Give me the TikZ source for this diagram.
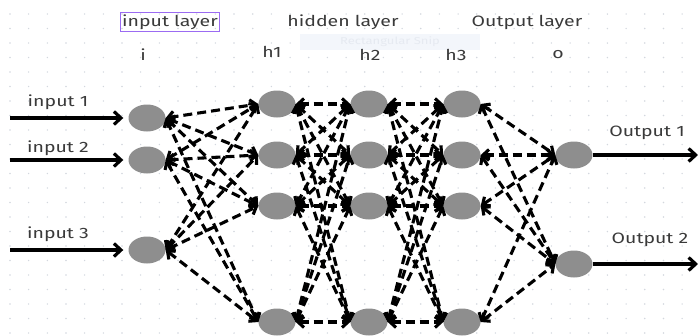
\documentclass[tikz,border=0pt]{standalone}
\usepackage{fontspec}
\setmainfont{Fira Sans}
\usetikzlibrary{arrows.meta,shapes.geometric}
\definecolor{nodeGrey}{HTML}{8E8E8E}
\definecolor{labelInk}{HTML}{3A3A3A}
\definecolor{gridDot}{HTML}{D3D7DE}
\definecolor{frameViolet}{HTML}{9B6BF2}
\definecolor{snipTint}{HTML}{F3F6FB}
\definecolor{snipInk}{HTML}{E6EAF1}
\newcommand{\widetxt}[1]{\scalebox{1.3}[1]{#1}}

\begin{document}
\begin{tikzpicture}[x=1pt,y=-1pt,
    every node/.style={font=\fontsize{15}{18}\selectfont,text=labelInk},
    neuron/.style={ellipse,fill=nodeGrey,minimum width=37pt,
                   minimum height=27pt,inner sep=0pt},
    link/.style={line width=3.1pt,dash pattern=on 9pt off 5pt,
                 {Straight Barb[length=6pt,width=11pt]}-{Straight Barb[length=6pt,width=11pt]}},
    feed/.style={line width=3.2pt,-{Straight Barb[length=7pt,width=13pt]}},
  ]
  \useasboundingbox (0,0) rectangle (698,335);
  % dotted grid
  \foreach \gx in {0,...,36}
    \foreach \gy in {0,...,22}
      \fill[gridDot] (10+18.67*\gx,14+14.5*\gy) circle (0.8pt);
  \fill[snipTint] (300,34) rectangle (480,50);
  \node[font=\fontsize{10}{12}\selectfont,text=snipInk] (snip) at (390,42) {\widetxt{Rectangular Snip}};

  % layer titles
  \node[draw=frameViolet,line width=1.3pt,inner sep=2pt] (tin) at (170,22) {\widetxt{input layer}};
  \node (thid) at (343,22) {\widetxt{hidden layer}};
  \node (tout) at (527,22) {\widetxt{Output layer}};
  \node (ti) at (143,55) {\widetxt{i}};
  \node (th1) at (272,52) {\widetxt{h1}};
  \node (th2) at (370,55) {\widetxt{h2}};
  \node (th3) at (456,55) {\widetxt{h3}};
  \node (to) at (558,55) {\widetxt{o}};

  % neurons
  \node[neuron] (i1) at (147,118) {};
  \node[neuron] (i2) at (147,160) {};
  \node[neuron] (i3) at (147,250) {};
  \foreach \l/\x in {h1/277,h2/369,h3/462}
    \foreach \k/\y in {1/104,2/155,3/206,4/322}
      \node[neuron] (\l-\k) at (\x,\y) {};
  \node[neuron] (o1) at (574,155) {};
  \node[neuron] (o2) at (574,264) {};

  % weights, east side of one layer to west side of the next
  \foreach \a in {1,2,3}
    \foreach \b in {1,...,4}
      \draw[link] (i\a.east) -- (h1-\b.west);
  \foreach \a in {1,...,4}
    \foreach \b in {1,...,4} {
      \draw[link] (h1-\a.east) -- (h2-\b.west);
      \draw[link] (h2-\a.east) -- (h3-\b.west);
    }
  \foreach \a in {1,...,4}
    \foreach \b in {1,2}
      \draw[link] (h3-\a.east) -- (o\b.west);

  % inputs and outputs
  \foreach \k/\y/\ly in {1/118/102,2/160/148,3/250/234} {
    \coordinate (src\k) at (10,\y);
    \node (lin\k) at (58,\ly) {\widetxt{input \k}};
    \draw[feed,shorten >=5pt] (src\k) -- (i\k);
  }
  \coordinate (dst1) at (698,155);
  \coordinate (dst2) at (698,264);
  \node (lout1) at (647,133) {\widetxt{Output 1}};
  \node (lout2) at (650,240) {\widetxt{Output 2}};
  \draw[feed] (o1) -- (dst1);
  \draw[feed] (o2) -- (dst2);
\end{tikzpicture}
\end{document}
